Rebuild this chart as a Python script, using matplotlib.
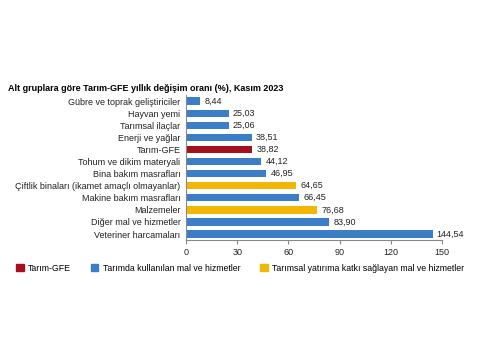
import matplotlib.pyplot as plt
from matplotlib.patches import Patch

plt.rcParams['font.family'] = ['Liberation Sans', 'DejaVu Sans']

labels = ['Gübre ve toprak geliştiriciler', 'Hayvan yemi', 'Tarımsal ilaçlar',
          'Enerji ve yağlar', 'Tarım-GFE', 'Tohum ve dikim materyali',
          'Bina bakım masrafları', 'Çiftlik binaları (ikamet amaçlı olmayanlar)',
          'Makine bakım masrafları', 'Malzemeler', 'Diğer mal ve hizmetler',
          'Veteriner harcamaları']
values = [8.44, 25.03, 25.06, 38.51, 38.82, 44.12, 46.95, 64.65, 66.45, 76.68, 83.90, 144.54]
groups = ['k', 'k', 'k', 'k', 'g', 'k', 'k', 'y', 'k', 'y', 'k', 'k']

renk = {'g': '#A50F1E', 'k': '#3C7DC8', 'y': '#F2B705'}
legend_labels = ['Tarım-GFE', 'Tarımda kullanılan mal ve hizmetler',
                 'Tarımsal yatırıma katkı sağlayan mal ve hizmetler']

fig = plt.figure(figsize=(4.8, 3.6), dpi=100)
ax = fig.add_axes([0.3875, 0.333, 0.533, 0.403])

y = list(range(len(labels)))
bars = ax.barh(y, values, height=0.6, color=[renk[g] for g in groups])
ax.set_ylim(len(labels) - 0.5, -0.5)
ax.set_yticks(y)
ax.set_yticklabels(labels, fontsize=6.5, color='#222222')
ax.set_xlim(0, 150)
ax.set_xticks([0, 30, 60, 90, 120, 150])
ax.tick_params(axis='x', labelsize=6.5, length=3, color='#888888', pad=3, labelcolor='#222222')
ax.tick_params(axis='y', length=0, pad=4)

for bar, v in zip(bars, values):
    ax.text(bar.get_width() + 2.5, bar.get_y() + bar.get_height() / 2,
            f"{v:.2f}".replace('.', ','), va='center', ha='left', fontsize=6.5, color='#222222')

for s in ['top', 'right']:
    ax.spines[s].set_visible(False)
for s in ['left', 'bottom']:
    ax.spines[s].set_color('#888888')
    ax.spines[s].set_linewidth(0.8)

fig.text(0.017, 0.755, 'Alt gruplara göre Tarım-GFE yıllık değişim oranı (%), Kasım 2023',
         fontsize=6.5, fontweight='bold', ha='left', va='center')

handles = [Patch(color=renk['g']), Patch(color=renk['k']), Patch(color=renk['y'])]
fig.legend(handles, legend_labels, loc='center', bbox_to_anchor=(0.5, 0.255), ncol=3,
           frameon=False, fontsize=6.3, handlelength=0.9, handleheight=0.9,
           columnspacing=2.2, handletextpad=0.5)

plt.savefig('out.png', dpi=100)
